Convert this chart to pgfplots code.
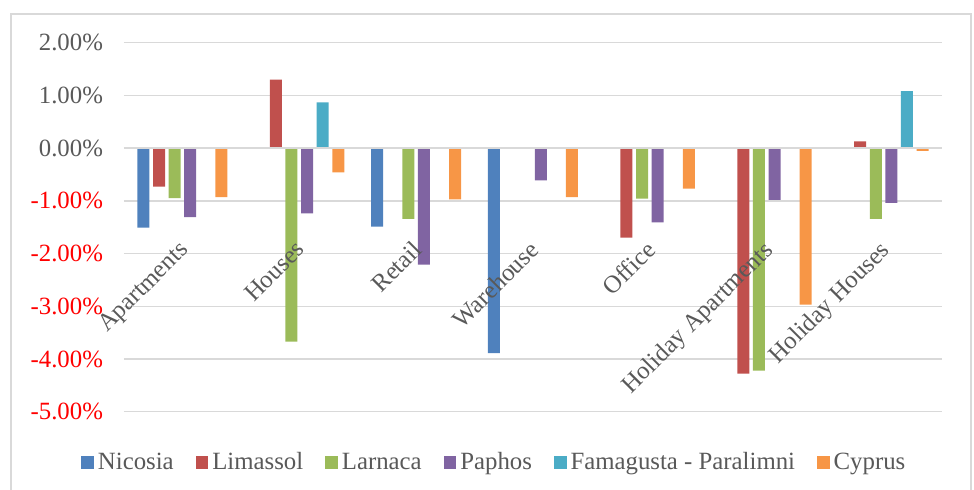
\documentclass[border=0pt]{standalone}
\usepackage{pgfplots}
\pgfplotsset{compat=1.18}
\usepackage{fontspec}
\setmainfont{Liberation Serif}
\definecolor{cNic}{HTML}{4F81BD}
\definecolor{cLim}{HTML}{C0504D}
\definecolor{cLar}{HTML}{9BBB59}
\definecolor{cPap}{HTML}{8064A2}
\definecolor{cFam}{HTML}{4BACC6}
\definecolor{cCyp}{HTML}{F79646}
\definecolor{gridgray}{HTML}{D9D9D9}
\definecolor{textgray}{HTML}{595959}
\newcommand{\chartfont}{\fontsize{12.4}{14}\selectfont}
\tikzset{catlabel/.style={font=\chartfont, text=textgray, inner sep=0pt, xshift=-2.5pt, rotate=45, anchor=north east}}
\begin{document}
\begin{tikzpicture}
\draw[color=gridgray, line width=0.75pt] (-56.5pt,-45pt) -- (-56.5pt,198.85pt) -- (423.5pt,198.85pt) -- (423.5pt,-45pt);
\begin{axis}[
  at={(0pt,0pt)}, anchor=south west,
  scale only axis, width=409pt, height=184.5pt,
  xmin=-0.5, xmax=6.5, ymin=-5, ymax=2,
  ytick={-5,-4,-3,-2,-1,0,1,2},
  yticklabels={\textcolor{red}{-5.00\%},\textcolor{red}{-4.00\%},\textcolor{red}{-3.00\%},\textcolor{red}{-2.00\%},\textcolor{red}{-1.00\%},0.00\%,1.00\%,2.00\%},
  xtick=\empty,
  /pgf/number format/assume math mode=true,
  axis line style={draw=none},
  major tick length=0pt,
  ymajorgrids, grid style={color=gridgray, line width=0.75pt},
  yticklabel style={font=\chartfont, color=textgray, xshift=-7pt},
  ybar, bar width=0.1027,
  legend style={at={(axis description cs:0.454,-0.1377)}, anchor=center, legend columns=6, draw=none, font=\chartfont, text=textgray,
    /tikz/every even column/.append style={column sep=9pt}},
  legend image code/.code={\fill[#1] (0pt,-3.2pt) rectangle (6.3pt,3.2pt);},
  clip=false,
]
\addplot[fill=cNic, draw=none, bar shift=-0.33375] coordinates {(0,-1.51) (2,-1.49) (3,-3.89)};
\addplot[fill=cLim, draw=none, bar shift=-0.20025] coordinates {(0,-0.73) (1,1.30) (4,-1.70) (5,-4.28) (6,0.13)};
\addplot[fill=cLar, draw=none, bar shift=-0.06675] coordinates {(0,-0.95) (1,-3.67) (2,-1.34) (4,-0.96) (5,-4.22) (6,-1.34)};
\addplot[fill=cPap, draw=none, bar shift=0.06675] coordinates {(0,-1.31) (1,-1.24) (2,-2.21) (3,-0.61) (4,-1.41) (5,-0.98) (6,-1.04)};
\addplot[fill=cFam, draw=none, bar shift=0.20025] coordinates {(1,0.87) (6,1.08)};
\addplot[fill=cCyp, draw=none, bar shift=0.33375] coordinates {(0,-0.93) (1,-0.46) (2,-0.97) (3,-0.93) (4,-0.77) (5,-2.97) (6,-0.05)};
\legend{Nicosia,Limassol,Larnaca,Paphos,Famagusta - Paralimni,Cyprus}
\addplot[sharp plot, color=gridgray, line width=0.75pt, forget plot] coordinates {(-0.5,0) (6.5,0)};
\node[catlabel] at (axis cs:0,-1.724) {Apartments};
\node[catlabel] at (axis cs:1,-1.724) {Houses};
\node[catlabel] at (axis cs:2,-1.724) {Retail};
\node[catlabel] at (axis cs:3,-1.724) {Warehouse};
\node[catlabel] at (axis cs:4,-1.724) {Office};
\node[catlabel] at (axis cs:5,-1.724) {Holiday Apartments};
\node[catlabel] at (axis cs:6,-1.724) {Holiday Houses};
\end{axis}
\pgfresetboundingbox
\path[use as bounding box] (-62pt,-39.15pt) rectangle (425pt,205.85pt);
\end{tikzpicture}
\end{document}
